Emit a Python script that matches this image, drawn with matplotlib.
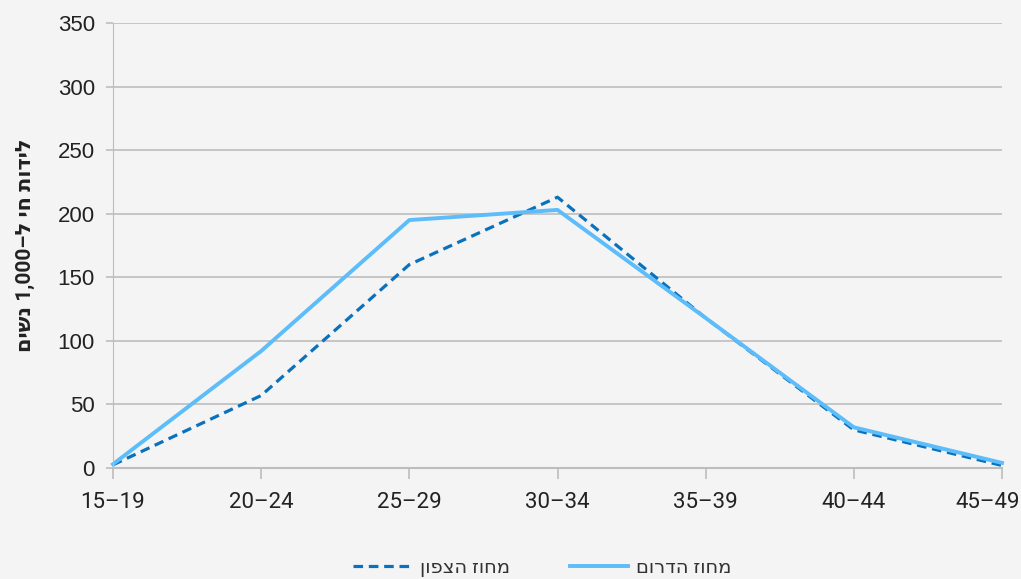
import matplotlib
matplotlib.use("Agg")
import matplotlib.pyplot as plt
import matplotlib.transforms as mtransforms

# age groups and live births per 1,000 women
age_groups = ["15–19", "20–24", "25–29", "30–34", "35–39", "40–44", "45–49"]
north = [2.5, 57, 160, 213, 118, 30, 2]
south = [3, 92, 195, 203, 118, 32, 4]

# Hebrew text in visual (left-to-right) order, matplotlib has no bidi
ylabel = "םישנ 1,000–ל יח תודיל"
label_north = "ןופצה זוחמ"
label_south = "םורדה זוחמ"

bg = "#f4f4f4"
plt.rcParams['font.family'] = ['Roboto', 'DejaVu Sans']

fig = plt.figure(figsize=(10.21, 5.79), dpi=100, facecolor=bg)
ax = fig.add_axes([113 / 1021, 1 - 468 / 579, (1002 - 113) / 1021, (468 - 23) / 579])
ax.set_facecolor(bg)

x = list(range(len(age_groups)))
ax.plot(x, north, color="#0a72bd", lw=2.3, ls=(0, (3, 1.8)), label=label_north, clip_on=False)
ax.plot(x, south, color="#5cbdfa", lw=2.8, label=label_south, clip_on=False)

ax.set_xlim(0, len(age_groups) - 1)
ax.set_ylim(0, 350)
ax.set_yticks(range(0, 351, 50))
ax.set_xticks(x)
ax.set_xticklabels(age_groups)
ax.grid(axis="y", color="#bdbdbd", lw=1.2)
ax.set_axisbelow(True)

for s in ["top", "right"]:
    ax.spines[s].set_visible(False)
ax.spines["left"].set_color("#bdbdbd")
ax.spines["bottom"].set_color("#bdbdbd")
ax.spines["bottom"].set_linewidth(1.5)

ax.tick_params(axis="y", length=5, width=1.2, color="#bdbdbd", pad=8, labelsize=16,
               labelcolor="#222222")
for t in ax.get_yticklabels():
    t.set_family(["Liberation Sans", "DejaVu Sans"])
ax.tick_params(axis="x", length=8, width=1.2, color="#bdbdbd", pad=9, labelsize=16,
               labelcolor="#222222")

# last category label nudged left so it stays inside the figure
last = ax.get_xticklabels()[-1]
last.set_transform(last.get_transform() +
                   mtransforms.ScaledTranslation(-14 / 100, 0, fig.dpi_scale_trans))

ax.set_ylabel(ylabel, fontsize=15, fontweight="bold", color="#222222", labelpad=16)

ax.legend(loc="center", bbox_to_anchor=(0.483, -0.225), ncol=2, frameon=False,
          fontsize=14, handlelength=3.0, handletextpad=0.4, columnspacing=3.1,
          labelcolor="#333333")

fig.savefig("out.png", dpi=100, facecolor=bg)
